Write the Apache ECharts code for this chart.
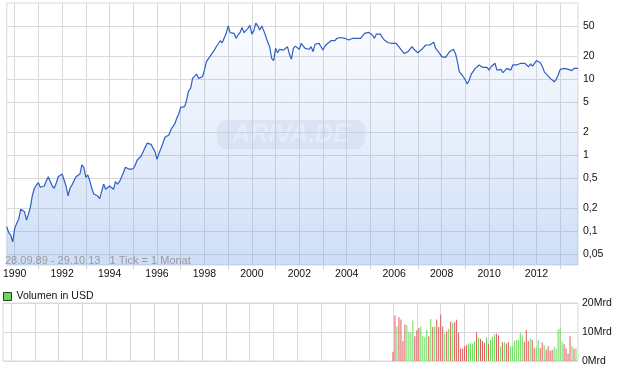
<!DOCTYPE html>
<html><head><meta charset="utf-8">
<script src="https://cdn.jsdelivr.net/npm/echarts@6/dist/echarts.min.js"></script>
<style>html,body{margin:0;padding:0;background:#fff}#c{width:620px;height:371px}</style>
</head><body><div id="c"></div>
<script>
// ---- data ----
const startYear = 1989, startMonth = 9, monthCount = 290;   // 28.09.89 - 29.10.13, monthly
const prices = [
  0.114,0.095,0.088,0.072,0.108,0.126,0.142,0.193,0.185,0.179,0.139,0.168,0.209,0.298,0.365,0.403,0.432,0.376,0.391,0.391,
  0.459,0.518,0.518,0.391,0.365,0.424,0.518,0.546,0.562,0.469,0.391,0.289,0.365,0.403,0.459,0.518,0.54,
  0.562,0.739,0.689,0.509,0.546,0.459,0.365,0.307,0.313,0.289,0.266,0.329,0.415,0.354,0.354,0.391,0.383,0.354,0.446,0.415,
  0.446,0.509,0.585,0.689,0.668,0.648,0.660,0.660,0.739,0.860,0.816,0.970,1.105,1.26,1.43,1.45,1.38,
  1.31,1.105,0.878,1.05,1.07,1.43,1.71,1.61,1.83,2.13,2.36,2.56,3.04,3.46,4.24,4.42,4.33,5.30,7.0,7.55,
  10.2,10.7,11.6,10.2,10.5,10.7,13.1,16.9,17.8,20.1,20.7,24.0,26.6,25.3,31.9,30.0,30.9,39.9,49.9,40.7,
  41.5,39.9,34.3,37.9,40.7,47.8,40.7,41.9,46.4,50.9,39.0,43.3,54.2,49.9,44.1,49.9,43.3,44.1,30.9,26.6,
  18.7,17.5,25.3,22.2,24.6,26.1,24.0,25.3,26.6,21.3,18.2,25.3,27.1,
  27.1,24.6,29.4,27.1,25.3,26.1,24.6,26.6,22.9,28.9,28.0,29.4,26.6,24.0,27.1,28.9,30.0,31.9,33.3,31.9,
  34.3,33.3,35.2,34.3,34.3,33.3,32.6,33.6,34.3,34.9,34.3,35.2,34.3,34.9,39.9,41.9,41.1,39.9,37.9,34.3,
  39.0,39.9,39.0,35.2,32.6,30.9,30.0,30.0,29.4,29.4,29.4,28.0,25.3,24.0,21.7,22.2,22.9,24.0,26.6,24.6,
  23.5,22.2,22.9,24.6,26.1,28.0,28.6,28.0,28.0,30.4,25.3,24.0,21.7,
  19.7,19.3,19.3,19.3,22.9,22.2,24.6,21.7,16.9,12.4,11.6,10.7,9.7,8.6,9.7,11.6,11.9,13.8,13.4,15.3,
  14.8,14.2,13.8,14.2,13.1,14.5,15.3,16.1,13.1,12.4,13.4,12.1,12.9,13.8,13.4,13.1,15.3,14.5,15.3,15.8,
  16.1,16.9,16.1,15.3,14.5,15.8,14.8,15.3,17.5,16.9,16.4,14.5,12.4,11.6,10.9,10.2,9.7,9.2,9.9,11.3,
  13.4,14.2,13.8,13.4,13.4,13.4,12.9,13.8,13.8,13.8
];
const priceTicks = [0.05, 0.1, 0.2, 0.5, 1, 2, 5, 10, 20, 50];

const volumeStart = '2006-01';
// Volumen in Mrd USD
const volumes = [
  3.2,15.7,11.9,15.1,14.3,6.9,12.6,12.3,10.0,9.7, 14.0,8.5,10.6,11.4,11.9,8.5,8.1,10.8,8.5,14.5,
  11.7,11.9,14.3,11.7,16.0,11.9,9.4,10.2,11.1,13.6, 13.1,13.4,14.2,9.7,4.3,4.3,5.1,5.5,6.0,6.0,
  6.0,6.8,9.8,8.1,7.7,6.9,6.3,8.1,5.8,7.2, 8.3,9.2,9.4,8.9,5.1,6.5,6.5,6.0,6.5,5.1,
  5.1,6.9,7.2,7.2,9.7,8.9,6.6,10.8,6.9,7.7, 7.2,4.3,4.9,7.2,4.5,6.5,5.5,4.0,5.1,3.5,
  3.8,4.9,4.2,10.9,11.3,6.6,5.8,4.3,2.6,8.5, 5.1,4.3,4.3
];
// 1 = up month, 0 = down month
const volumeUp = [
  0,0,1,0,0,0,0,1,1,1, 1,0,0,0,1,1,1,1,0,1, 0,1,0,0,0,0,1,0,1,0, 1,0,0,0,0,0,0,0,1,1,
  1,1,0,1,0,0,0,1,0,1, 1,1,0,0,1,0,1,0,0,1, 1,1,1,1,1,1,0,0,0,1, 0,0,1,1,0,0,1,0,0,0,
  0,1,1,1,1,1,0,0,0,0, 1,0,1
];

// ---- build ----
const months = [];
for (let i = 0; i < monthCount; i++) {
  const m0 = startMonth - 1 + i;
  const y = startYear + Math.floor(m0 / 12), m = (m0 % 12) + 1;
  months.push(y + '-' + (m < 10 ? '0' + m : m));
}
const volIdx = months.indexOf(volumeStart);
const volData = months.map((_, i) => {
  const k = i - volIdx;
  if (k < 0 || k >= volumes.length) return null;
  return { value: volumes[k], itemStyle: { color: volumeUp[k] ? '#66dd55' : '#dc5a5a' } };
});

const isJan = (i, v) => v.slice(5) === '01';
const isEvenJan = (i, v) => isJan(i, v) && (+v.slice(0, 4)) % 2 === 0;
const isOddJan = (i, v) => isJan(i, v) && (+v.slice(0, 4)) % 2 === 1;
const FONT = "'Liberation Sans', Arial, sans-serif";
const gridColor = '#d9d9d9';

const chart = echarts.init(document.getElementById('c'));
chart.setOption({
  animation: false,
  textStyle: { fontFamily: FONT },
  grid: [
    { left: 3, right: 42, top: 3, height: 262, show: true, borderColor: gridColor, borderWidth: 1 },
    { left: 3, right: 42, top: 303, height: 58, show: true, borderColor: gridColor, borderWidth: 1 }
  ],
  legend: {
    left: 3, top: 291, padding: 0, icon: 'rect', itemWidth: 8, itemHeight: 8,
    itemStyle: { color: '#66dd55', borderColor: '#333', borderWidth: 1 },
    textStyle: { fontSize: 10.5, color: '#111', fontFamily: FONT },
    data: ['Volumen in USD']
  },
  xAxis: [
    {
      type: 'category', gridIndex: 0, data: months, boundaryGap: false,
      axisLine: { show: false },
      axisTick: { show: true, interval: isOddJan, length: 4, lineStyle: { color: '#cfcfcf' } },
      axisLabel: { interval: isEvenJan, formatter: v => v.slice(0, 4), margin: 4, fontSize: 10.5, color: '#111', fontFamily: FONT },
      splitLine: { show: true, interval: isJan, lineStyle: { color: gridColor, width: 1 } }
    },
    {
      type: 'category', gridIndex: 1, data: months, boundaryGap: false,
      axisLine: { show: false }, axisTick: { show: false }, axisLabel: { show: false },
      splitLine: { show: true, interval: isJan, lineStyle: { color: gridColor, width: 1 } }
    }
  ],
  yAxis: [
    {
      type: 'log', logBase: 10, gridIndex: 0, position: 'right', min: 0.0357, max: 100,
      axisLine: { show: false },
      axisTick: { show: false, customValues: priceTicks },
      axisLabel: {
        customValues: priceTicks, margin: 5, fontSize: 10.5, color: '#111', fontFamily: FONT,
        formatter: v => String(+(+v).toPrecision(3)).replace('.', ',')
      },
      splitLine: { show: true, lineStyle: { color: gridColor, width: 1 } }
    },
    {
      type: 'value', gridIndex: 1, position: 'right', min: 0, max: 20, interval: 10,
      axisLine: { show: false }, axisTick: { show: false },
      axisLabel: { margin: 4, fontSize: 10.5, color: '#111', fontFamily: FONT, formatter: v => v + 'Mrd' },
      splitLine: { show: true, lineStyle: { color: gridColor, width: 1 } }
    }
  ],
  graphic: [
    {
      type: 'group', left: 217, top: 120, silent: true, z: 1,
      children: [
        { type: 'rect', shape: { x: 0, y: 0, width: 148, height: 29, r: 9 },
          style: { fill: 'rgba(100,120,165,0.10)' } },
        { type: 'text', x: 74, y: 15,
          style: { text: 'ARIVA.DE', fill: 'rgba(255,255,255,0.75)', font: "italic bold 25px 'Liberation Sans', Arial, sans-serif",
                   align: 'center', verticalAlign: 'middle' } }
      ]
    },
    {
      type: 'text', left: 5, top: 255, silent: true, z: 10,
      style: { text: '28.09.89 - 29.10.13   1 Tick = 1 Monat', fill: '#9a9a9a', font: "11px 'Liberation Sans', Arial, sans-serif" }
    }
  ],
  series: [
    {
      type: 'line', name: 'Kurs', xAxisIndex: 0, yAxisIndex: 0, data: prices,
      symbol: 'none', smooth: false,
      lineStyle: { color: '#2f5fc4', width: 1.2 },
      itemStyle: { color: '#2f5fc4' },
      areaStyle: {
        origin: 'start',
        color: new echarts.graphic.LinearGradient(0, 0, 0, 1, [
          { offset: 0, color: 'rgba(120,165,235,0.05)' },
          { offset: 0.5, color: 'rgba(120,165,235,0.28)' },
          { offset: 1, color: 'rgba(120,165,235,0.52)' }
        ])
      }
    },
    {
      type: 'bar', name: 'Volumen in USD', xAxisIndex: 1, yAxisIndex: 1, data: volData,
      barWidth: 1, itemStyle: { color: '#66dd55' }
    }
  ]
});
</script>
</body></html>
